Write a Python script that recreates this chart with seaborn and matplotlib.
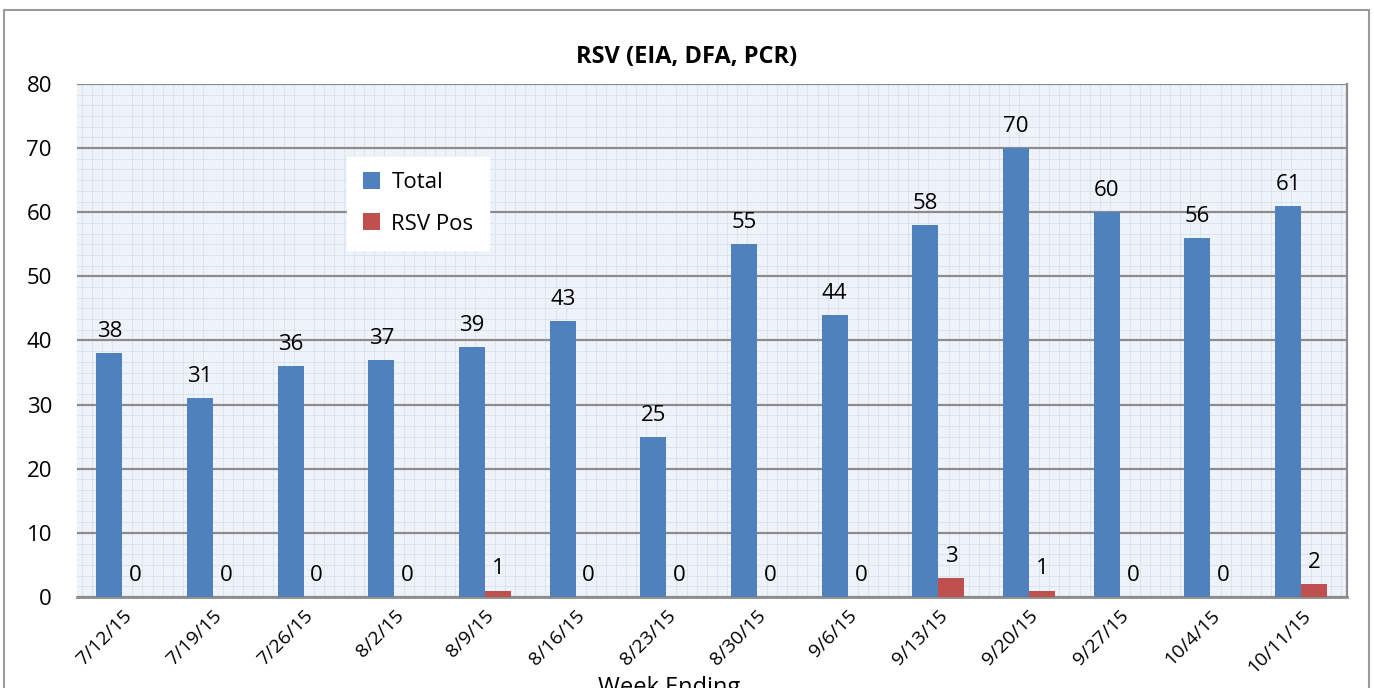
import matplotlib
matplotlib.use('Agg')
import matplotlib.pyplot as plt
from matplotlib.ticker import MultipleLocator
from matplotlib.patches import Rectangle
import seaborn as sns
import pandas as pd

weeks = ['7/12/15', '7/19/15', '7/26/15', '8/2/15', '8/9/15', '8/16/15', '8/23/15',
         '8/30/15', '9/6/15', '9/13/15', '9/20/15', '9/27/15', '10/4/15', '10/11/15']
total = [38, 31, 36, 37, 39, 43, 25, 55, 44, 58, 70, 60, 56, 61]
rsv_pos = [0, 0, 0, 0, 1, 0, 0, 0, 0, 3, 1, 0, 0, 2]
series = ['Total', 'RSV Pos']
colors = ['#4F81BD', '#C0504D']

df = pd.DataFrame({
    'week': weeks * 2,
    'count': total + rsv_pos,
    'series': [series[0]] * len(weeks) + [series[1]] * len(weeks),
})

sns.set_style('white')
plt.rcParams['font.family'] = ['Open Sans', 'DejaVu Sans']
plt.rcParams['text.color'] = 'black'
plt.rcParams['xtick.color'] = 'black'
plt.rcParams['ytick.color'] = 'black'

fig = plt.figure(figsize=(13.74, 6.88), dpi=100)
ax = fig.add_axes([0.056, 0.1323, 0.924, 0.7457])
ax.set_facecolor('#EEF2F9')

sns.barplot(data=df, x='week', y='count', hue='series', palette=colors,
            width=0.574, saturation=1, linewidth=0, ax=ax, legend=True, zorder=3)

for c in ax.containers:
    ax.bar_label(c, padding=8, fontsize=16)

ax.set_ylim(0, 80)
ax.set_xlim(-0.5, len(weeks) - 0.5)
ax.yaxis.set_major_locator(MultipleLocator(10))
ax.yaxis.set_minor_locator(MultipleLocator(10 / 6))
ax.xaxis.set_minor_locator(MultipleLocator(1 / 9))
ax.grid(axis='y', which='major', color='#8C8C8C', lw=1.6, zorder=1)
ax.grid(which='minor', color='#DCE3EF', lw=0.7, zorder=0)
ax.set_axisbelow(True)
ax.tick_params(which='both', length=0)
ax.tick_params(axis='y', labelsize=16, pad=18)
ax.tick_params(axis='x', labelsize=14, pad=7)
for lab in ax.get_xticklabels():
    lab.set_rotation(45)
    lab.set_ha('right')
    lab.set_rotation_mode('anchor')

ax.set_xlabel('')
ax.set_ylabel('')
ax.spines['left'].set_visible(False)
ax.spines['top'].set_visible(False)
ax.spines['bottom'].set_color('#8C8C8C')
ax.spines['bottom'].set_linewidth(2)
ax.spines['right'].set_color('#8C8C8C')
ax.spines['right'].set_linewidth(1.6)

ax.legend(loc='upper left', bbox_to_anchor=(0.204, 0.88), fontsize=16,
          frameon=True, facecolor='white', edgecolor='white', framealpha=1,
          fancybox=False, handlelength=0.8, handleheight=0.8, labelspacing=0.9,
          borderpad=0.7, handletextpad=0.5, title=None)

fig.text(0.5, 0.917, 'RSV (EIA, DFA, PCR)', ha='center', va='center',
         fontsize=17, fontweight='bold')
fig.text(0.487, 0.018, 'Week Ending', ha='center', va='top', fontsize=17)

fig.patches.append(Rectangle((0.003, -0.2), 0.9935, 1.1855, transform=fig.transFigure,
                             fill=False, edgecolor='#9A9A9A', lw=1.5, clip_on=False))

fig.savefig('out.png', dpi=100)
